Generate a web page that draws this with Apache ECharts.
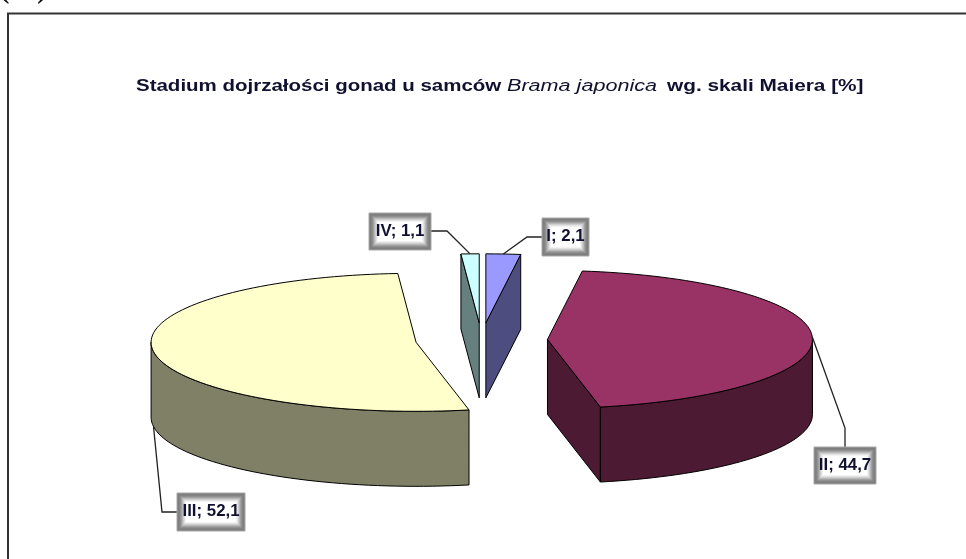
<!DOCTYPE html>
<html>
<head>
<meta charset="utf-8">
<script src="https://cdn.jsdelivr.net/npm/echarts@6/dist/echarts.min.js"></script>
<style>html,body{margin:0;padding:0;background:#fff}#c{width:966px;height:559px;filter:blur(0.35px)}</style>
</head>
<body>
<div id="c"></div>
<script>
// --- data ---
const stages = ['I', 'II', 'III', 'IV'];
const shares = [2.1, 44.7, 52.1, 1.1];
const titleParts = ['Stadium dojrzałości gonad u samców', 'Brama japonica', 'wg. skali Maiera [%]'];

// --- style / layout ---
const topColors = ['#9999FF', '#993366', '#FFFFCC', '#CCFFFF'];
const sideColors = ['#4D4D80', '#4D1A33', '#808066', '#668080'];
const labelBoxes = [[542, 218, 47, 38], [814, 447, 62, 37], [177, 493, 68, 38], [369, 213, 62, 37]];
const labelElbows = [[527, 237], [845, 428], [162, 512], [447, 231]];
const pie = { cx: 481.5, cy: 340, a: 265, b: 69, depth: 75, explode: 66 };
const glowSteps = ['#7c7c7c', '#7e7e7e', '#848484', '#909090', '#a2a2a2', '#b8b8b8', '#cecece', '#e2e2e2', '#f2f2f2', '#ffffff'];
const titleX = [136, 507, 667];
const titleScale = [1.28, 1.35, 1.3];
const titleFont = ['bold', 'italic', 'bold'];

const total = shares.reduce((s, v) => s + v, 0);
const RAD = Math.PI / 180;

function sliceGeometry(index) {
  let before = 0;
  for (let i = 0; i < index; i++) before += shares[i];
  const start = before / total * 360;
  const end = (before + shares[index]) / total * 360;
  const mid = (start + end) / 2;
  const k = pie.b / pie.a;
  const cx = pie.cx + pie.explode * Math.sin(mid * RAD);
  const cy = pie.cy - pie.explode * Math.cos(mid * RAD) * k;
  return { start, end, mid, cx, cy };
}
function rim(g, deg, drop) {
  return [g.cx + pie.a * Math.sin(deg * RAD), g.cy - pie.b * Math.cos(deg * RAD) + (drop || 0)];
}
function arc(g, from, to, drop) {
  const pts = [];
  const n = Math.max(2, Math.ceil(Math.abs(to - from) / 2));
  for (let i = 0; i <= n; i++) pts.push(rim(g, from + (to - from) * i / n, drop));
  return pts;
}
function poly(points, fill, z2) {
  return {
    type: 'polygon', z2: z2 || 1,
    shape: { points },
    style: { fill, stroke: '#000', lineWidth: 1, lineJoin: 'round' }
  };
}
function renderSlice(params, api) {
  const i = params.dataIndex;
  const value = api.value(0);
  const g = sliceGeometry(i);
  const side = sideColors[i];
  const kids = [];
  const centre = [g.cx, g.cy];
  const centreLow = [g.cx, g.cy + pie.depth];
  // radial faces that look towards the viewer
  if (Math.sin(g.end * RAD) > 0.001) {
    const p = rim(g, g.end);
    kids.push(poly([centre, p, [p[0], p[1] + pie.depth], centreLow], side));
  }
  if (Math.sin(g.start * RAD) < -0.001) {
    const p = rim(g, g.start);
    kids.push(poly([centre, p, [p[0], p[1] + pie.depth], centreLow], side));
  }
  // outer wall: front half of the rim only
  const wFrom = Math.max(g.start, 90), wTo = Math.min(g.end, 270);
  if (wTo > wFrom) {
    const top = arc(g, wFrom, wTo, 0);
    const low = arc(g, wTo, wFrom, pie.depth);
    kids.push(poly(top.concat(low), side));
  }
  // top face
  kids.push(poly([centre].concat(arc(g, g.start, g.end, 0)), topColors[i], 2));
  // leader line, from the rim (lower rim for slices in the front half)
  const frontHalf = Math.cos(g.mid * RAD) < 0;
  const anchor = rim(g, g.mid, frontHalf ? pie.depth : 0);
  const box = labelBoxes[i];
  const bx = box[0], by = box[1], bw = box[2], bh = box[3];
  const elbow = labelElbows[i];
  const boxEnd = elbow[1] < by ? [elbow[0], by]
    : (elbow[0] < bx ? [bx, elbow[1]] : [bx + bw, elbow[1]]);
  kids.push({
    type: 'polyline', z2: 3,
    shape: { points: [anchor, elbow, boxEnd] },
    style: { fill: null, stroke: '#222', lineWidth: 1.3 }
  });
  // label box with a rectangular grey-to-white glow
  glowSteps.forEach((color, s) => {
    kids.push({
      type: 'rect', z2: 4 + s,
      shape: { x: bx + s, y: by + s, width: bw - 2 * s, height: bh - 2 * s },
      style: { fill: color, stroke: s === 0 ? '#a8a8a8' : null, lineWidth: 1 }
    });
  });
  kids.push({ type: 'text', z2: 20, x: bx + bw / 2, y: by + bh / 2, scaleX: 1.05,
    style: {
      text: stages[i] + '; ' + String(value).replace('.', ','),
      font: 'bold 16px "Liberation Sans", Arial, sans-serif',
      fill: '#101030', align: 'center', verticalAlign: 'middle'
    } });
  return { type: 'group', children: kids };
}

const chart = echarts.init(document.getElementById('c'), null, { renderer: 'canvas' });
chart.setOption({
  animation: false,
  backgroundColor: '#fff',
  graphic: [
    { type: 'text', left: 0, top: -23,
      style: { text: '(%)', font: 'bold 28px "Liberation Serif", serif', fill: '#111' } },
    { type: 'polyline', shape: { points: [[8, 559], [8, 13.5], [966, 13.5]] },
      style: { fill: null, stroke: '#333', lineWidth: 2 } }
  ].concat(titleParts.map((part, i) => ({
    type: 'text', x: titleX[i], y: 87, scaleX: titleScale[i], z: 5,
    style: {
      text: part, verticalAlign: 'middle', align: 'left',
      font: titleFont[i] + ' 16px "Liberation Sans", Arial, sans-serif',
      fill: '#101030'
    }
  }))),
  series: [{
    type: 'custom',
    coordinateSystem: 'none',
    renderItem: renderSlice,
    data: shares.map((v, i) => ({ name: stages[i], value: [v] }))
  }]
});
</script>
</body>
</html>
